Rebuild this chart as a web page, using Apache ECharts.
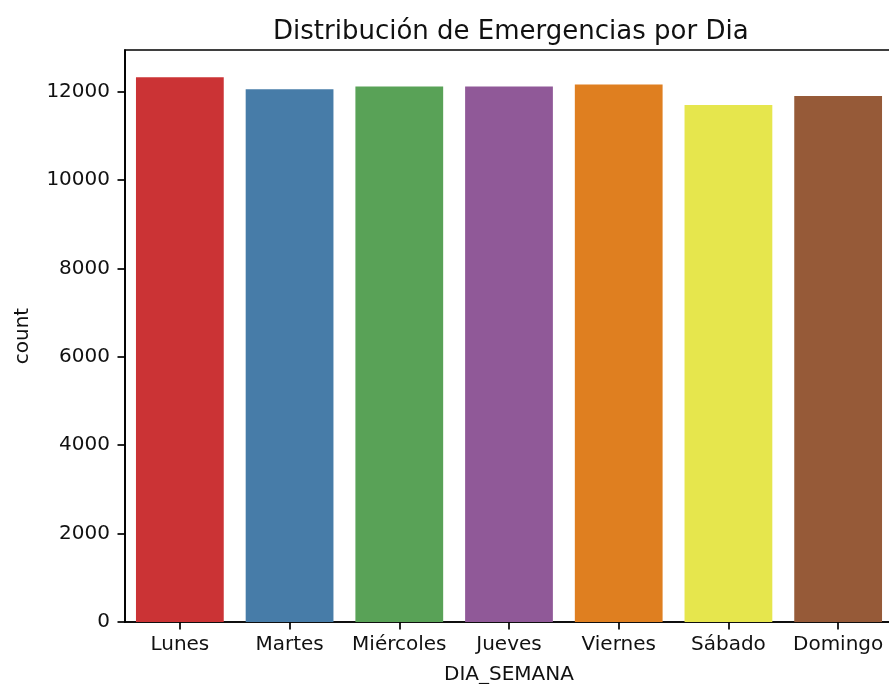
<!DOCTYPE html>
<html>
<head>
<meta charset="utf-8">
<script src="https://cdn.jsdelivr.net/npm/echarts@6/dist/echarts.min.js"></script>
<style>
  html, body { margin: 0; padding: 0; background: #fff; overflow: hidden; }
  #chart { width: 889px; height: 684px; }
</style>
</head>
<body>
<div id="chart"></div>
<script>
const days = ['Lunes', 'Martes', 'Miércoles', 'Jueves', 'Viernes', 'Sábado', 'Domingo']
const counts = [12326, 12055, 12114, 12114, 12159, 11699, 11903]
const yTicks = [0, 2000, 4000, 6000, 8000, 10000, 12000]
// seaborn Set1, desaturated to 0.75
const palette = ['#cb3335', '#477ca8', '#59a257', '#905998', '#df7f20', '#e6e64d', '#965a38']

const font = 'DejaVu Sans'
const ink = '#111'

const chart = echarts.init(document.getElementById('chart'))

chart.setOption({
  animation: false,
  backgroundColor: '#fff',
  title: {
    text: 'Distribución de Emergencias por Dia',
    left: 268,
    top: 14,
    textStyle: { fontFamily: font, fontSize: 26, fontWeight: 'normal', color: ink }
  },
  grid: {
    left: 125,
    top: 50,
    width: 768,
    height: 572,
    show: true,
    borderColor: '#000',
    borderWidth: 1.7,
    containLabel: false,
    outerBoundsMode: 'none'
  },
  xAxis: {
    type: 'category',
    data: days,
    name: 'DIA_SEMANA',
    nameLocation: 'middle',
    nameGap: 43,
    nameTextStyle: { fontFamily: font, fontSize: 20, color: ink },
    axisLine: { show: true, lineStyle: { color: '#000', width: 1.7 } },
    axisTick: { show: true, alignWithLabel: true, length: 7.5, lineStyle: { color: '#000', width: 1.7 } },
    axisLabel: { fontFamily: font, fontSize: 20, color: ink, margin: 13, interval: 0 },
    splitLine: { show: false }
  },
  yAxis: {
    type: 'value',
    min: 0,
    max: 12942,
    interval: 2000,
    name: 'count',
    nameLocation: 'middle',
    nameGap: 92,
    nameTextStyle: { fontFamily: font, fontSize: 20, color: ink },
    axisLine: { show: true, lineStyle: { color: '#000', width: 1.7 } },
    axisTick: { show: true, length: 7.5, customValues: yTicks, lineStyle: { color: '#000', width: 1.7 } },
    axisLabel: {
      fontFamily: font, fontSize: 20, color: ink, margin: 15, customValues: yTicks,
      formatter: (v) => String(v)
    },
    splitLine: { show: false }
  },
  series: [{
    type: 'bar',
    barCategoryGap: '20%',
    data: counts.map((v, i) => ({ value: v, itemStyle: { color: palette[i] } }))
  }]
})
</script>
</body>
</html>
